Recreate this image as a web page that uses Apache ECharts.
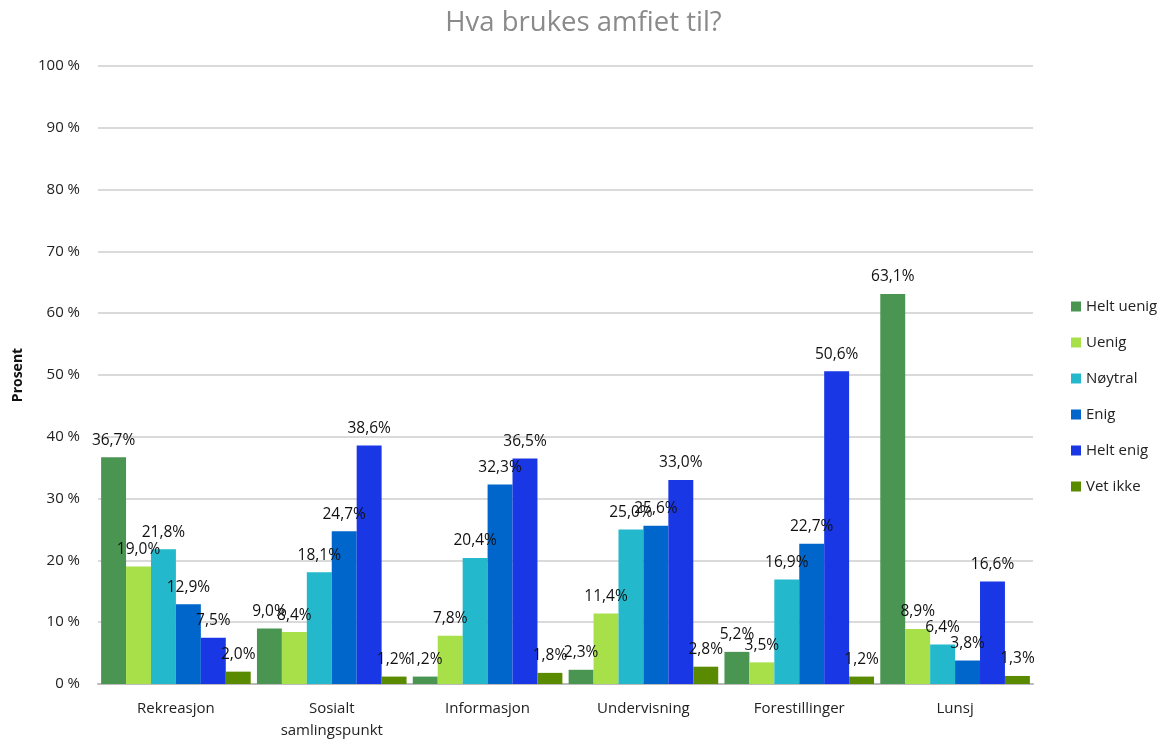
<!DOCTYPE html>
<html><head><meta charset="utf-8">
<script src="https://cdn.jsdelivr.net/npm/echarts@6/dist/echarts.min.js"></script>
<style>html,body{margin:0;padding:0;background:#fff}#c{width:1167px;height:740px}</style>
</head><body><div id="c"></div>
<script>
const categories = ['Rekreasjon', 'Sosialt\nsamlingspunkt', 'Informasjon', 'Undervisning', 'Forestillinger', 'Lunsj'];
const seriesNames = ['Helt uenig', 'Uenig', 'Nøytral', 'Enig', 'Helt enig', 'Vet ikke'];
const heltUenig = [36.7, 9.0, 1.2, 2.3, 5.2, 63.1];
const uenig = [19.0, 8.4, 7.8, 11.4, 3.5, 8.9];
const noytral = [21.8, 18.1, 20.4, 25.0, 16.9, 6.4];
const enig = [12.9, 24.7, 32.3, 25.6, 22.7, 3.8];
const heltEnig = [7.5, 38.6, 36.5, 33.0, 50.6, 16.6];
const vetIkke = [2.0, 1.2, 1.8, 2.8, 1.2, 1.3];
const colors = ['#4a9552', '#a8e04a', '#23b8cc', '#0066cc', '#1a37e6', '#5a8a00'];
const allData = [heltUenig, uenig, noytral, enig, heltEnig, vetIkke];

const fmt = v => v.toFixed(1).replace('.', ',') + '%';
const font = '"Open Sans", "Liberation Sans", sans-serif';

const chart = echarts.init(document.getElementById('c'));
chart.setOption({
  animation: false,
  title: {
    text: 'Hva brukes amfiet til?',
    left: 'center', top: 4,
    textStyle: { color: '#8a8a8a', fontSize: 27.5, fontWeight: 'normal', fontFamily: font }
  },
  legend: {
    orient: 'vertical', left: 1066, top: 294,
    itemWidth: 10, itemHeight: 10, itemGap: 21,
    icon: 'rect',
    textStyle: { fontSize: 15, color: '#222', fontFamily: font },
    data: seriesNames
  },
  grid: { left: 98, right: 134, top: 66, bottom: 56, outerBoundsMode: 'none', containLabel: false },
  xAxis: {
    type: 'category', data: categories,
    axisTick: { show: false },
    axisLine: { lineStyle: { color: '#bbbbbb', width: 2 } },
    axisLabel: { fontSize: 15, color: '#222', fontFamily: font, margin: 14, lineHeight: 22 }
  },
  yAxis: {
    type: 'value', min: 0, max: 100, interval: 10,
    name: 'Prosent', nameLocation: 'middle', nameGap: 73, nameRotate: 90,
    nameTextStyle: { fontWeight: 'bold', fontSize: 14, color: '#111', fontFamily: font },
    axisLabel: { formatter: v => v + ' %', fontSize: 15, color: '#222', fontFamily: font, margin: 18 },
    splitLine: { lineStyle: { color: '#dadada', width: 2 } },
    axisLine: { show: false }, axisTick: { show: false }
  },
  series: seriesNames.map((n, i) => ({
    name: n, type: 'bar', data: allData[i],
    barGap: '0%', barCategoryGap: '4%',
    itemStyle: { color: colors[i] },
    label: { show: true, position: 'top', distance: 9, formatter: p => fmt(p.value),
      fontSize: 15.5, color: '#111', fontFamily: font }
  }))
});
</script></body></html>
